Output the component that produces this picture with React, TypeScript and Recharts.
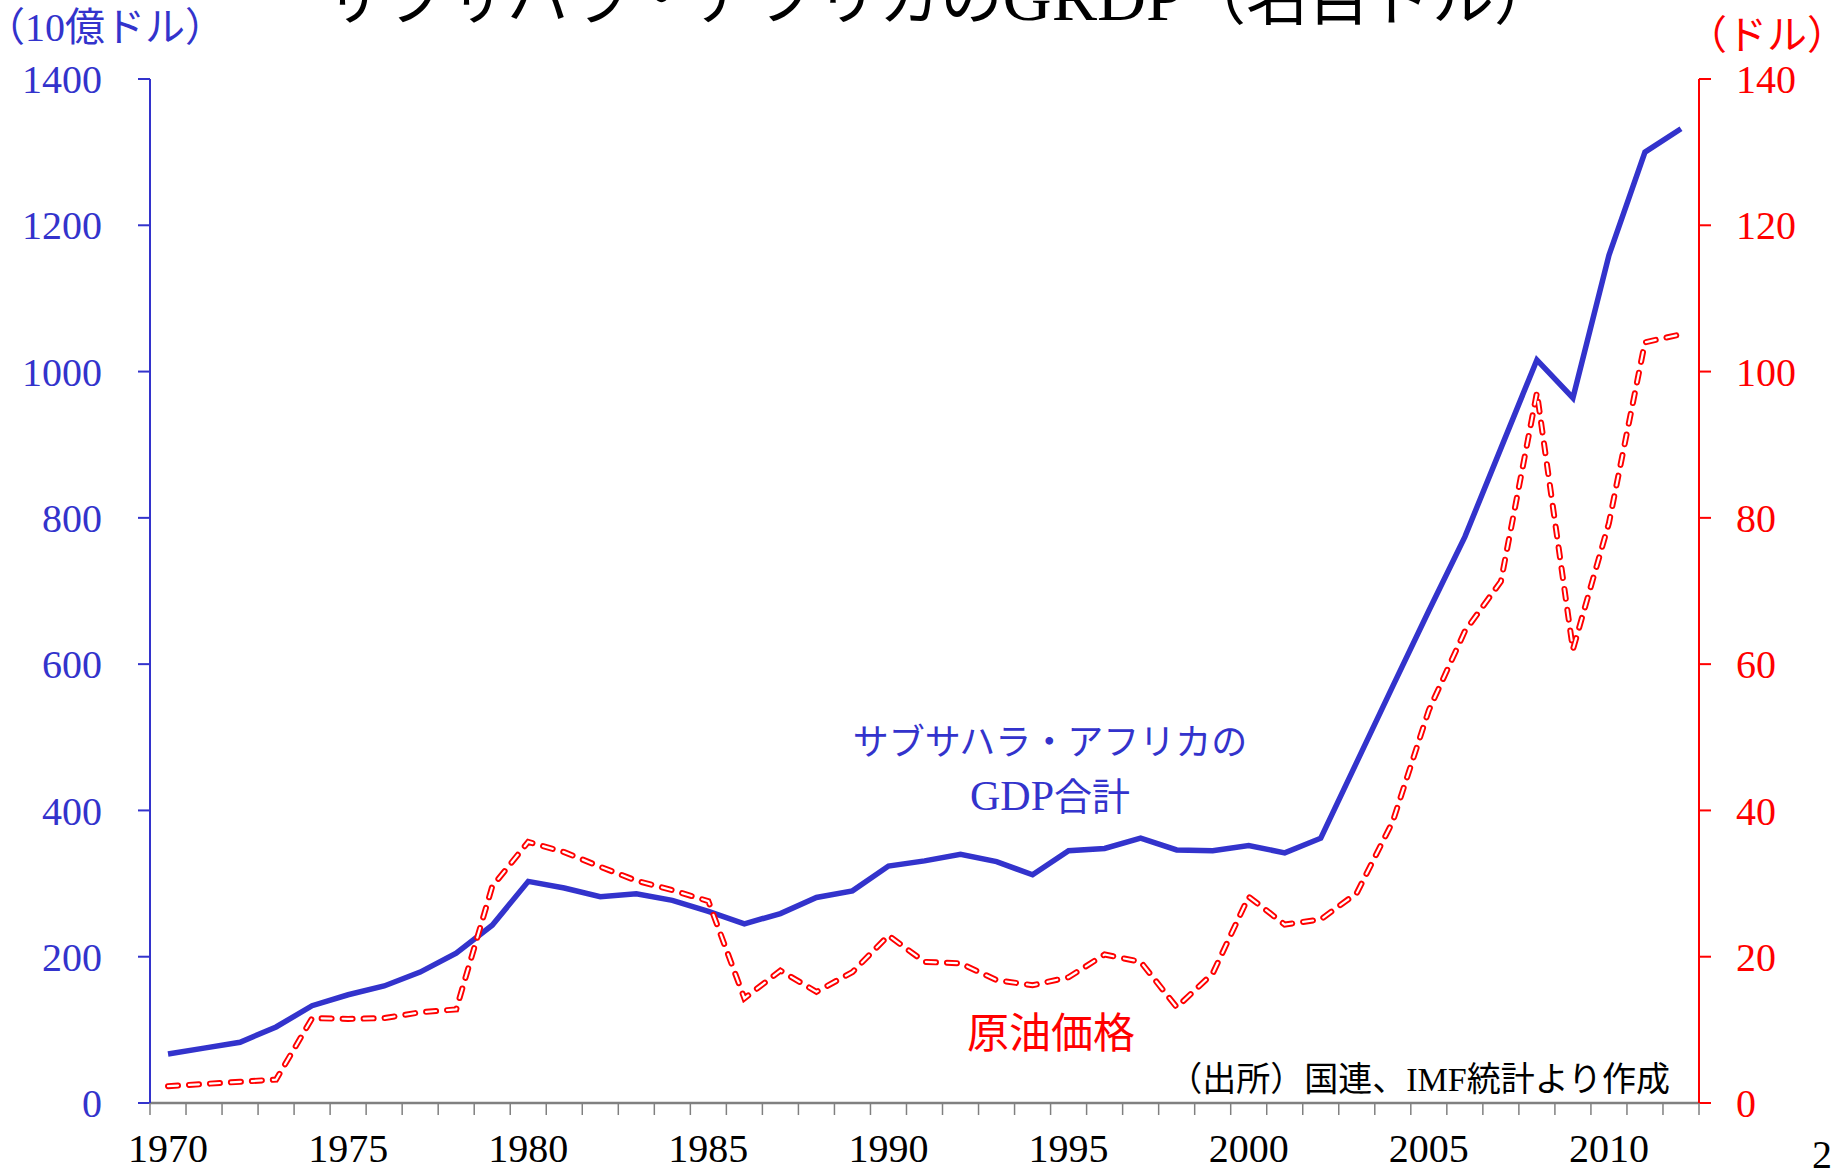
import { LineChart, Line, XAxis, YAxis } from "recharts";

// fiscal years on the category axis
const years = [
  1970, 1971, 1972, 1973, 1974, 1975, 1976, 1977, 1978, 1979,
  1980, 1981, 1982, 1983, 1984, 1985, 1986, 1987, 1988, 1989,
  1990, 1991, 1992, 1993, 1994, 1995, 1996, 1997, 1998, 1999,
  2000, 2001, 2002, 2003, 2004, 2005, 2006, 2007, 2008, 2009,
  2010, 2011, 2012,
];

// サブサハラ・アフリカのGDP合計 (10億ドル)
const gdp = [
  67, 75, 83, 104, 133, 148, 160, 179, 205, 243,
  303, 294, 282, 286, 277, 262, 245, 259, 281, 290,
  324, 331, 340, 330, 312, 345, 348, 362, 346, 345,
  352, 342, 362, 466, 570, 673, 774, 895, 1016, 964,
  1159, 1300, 1332,
];

// 原油価格 (ドル)
const oil = [
  2.3, 2.6, 2.9, 3.2, 11.6, 11.5, 11.6, 12.4, 12.8, 29.6,
  35.7, 34.3, 32.3, 30.4, 29.1, 27.6, 14.3, 18.1, 15.2, 17.9,
  22.9, 19.3, 19.1, 16.8, 16.1, 17.2, 20.3, 19.3, 13.1, 17.7,
  28.2, 24.4, 25.1, 28.7, 38.5, 53.7, 64.5, 71.3, 97.1, 62.0,
  79.3, 104.0, 105.1,
];

const gdpTicks = [0, 200, 400, 600, 800, 1000, 1200, 1400];
const oilTicks = [0, 20, 40, 60, 80, 100, 120, 140];
const labelYears = [1970, 1975, 1980, 1985, 1990, 1995, 2000, 2005, 2010];

const BLUE = "#3333cc";
const RED = "#ff0000";
const SERIF = "Liberation Serif";
const GOTHIC = "Noto Sans CJK JP";

const data = years.map((year, i) => ({ year, gdp: gdp[i], oil: oil[i] }));

// tick marks sit between the categories, labels on every 5th year
const boundaries = years.map((y) => y - 0.5).concat(years[years.length - 1] + 0.5);
const xTicks = [...boundaries, ...labelYears].sort((a, b) => a - b);

const YearTick = (props: any) => {
  const { x, y, payload } = props;
  const v = payload.value;
  if (v % 1 !== 0) {
    return <line x1={x} x2={x} y1={y} y2={y + 12} stroke="#808080" strokeWidth={1.5} />;
  }
  return (
    <text x={x} y={y + 59} textAnchor="middle" fontSize={40} fontFamily={SERIF} fill="#000">
      {v}
    </text>
  );
};

export default function App() {
  return (
    <div
      style={{
        position: "absolute",
        left: 0,
        top: 0,
        width: 1835,
        height: 1172,
        overflow: "hidden",
        background: "#fff",
      }}
    >
      <LineChart width={1835} height={1172} data={data} margin={{ top: 79, right: 0, bottom: 0, left: 0 }}>
        <XAxis
          dataKey="year"
          type="number"
          domain={[1969.5, 2012.5]}
          ticks={xTicks}
          interval={0}
          tickLine={false}
          tickSize={0}
          tickMargin={0}
          height={69}
          axisLine={{ stroke: "#808080", strokeWidth: 2.5 }}
          tick={YearTick}
        />
        <YAxis
          yAxisId="gdp"
          domain={[0, 1400]}
          ticks={gdpTicks}
          interval={0}
          width={150}
          tickSize={12}
          tickMargin={36}
          axisLine={{ stroke: BLUE, strokeWidth: 2 }}
          tickLine={{ stroke: BLUE, strokeWidth: 2 }}
          tick={{ fill: BLUE, fontSize: 40, fontFamily: SERIF }}
        />
        <YAxis
          yAxisId="oil"
          orientation="right"
          domain={[0, 140]}
          ticks={oilTicks}
          interval={0}
          width={136}
          tickSize={12}
          tickMargin={25}
          axisLine={{ stroke: RED, strokeWidth: 2 }}
          tickLine={{ stroke: RED, strokeWidth: 2 }}
          tick={{ fill: RED, fontSize: 40, fontFamily: SERIF }}
        />
        <Line
          yAxisId="gdp"
          dataKey="gdp"
          stroke={BLUE}
          strokeWidth={5.5}
          strokeLinejoin="miter"
          dot={false}
          activeDot={false}
          isAnimationActive={false}
        />
        {/* outlined dashes: wide red under a thin white stroke */}
        <Line
          yAxisId="oil"
          dataKey="oil"
          stroke={RED}
          strokeWidth={6}
          strokeDasharray="10 11"
          strokeLinecap="round"
          dot={false}
          activeDot={false}
          isAnimationActive={false}
        />
        <Line
          yAxisId="oil"
          dataKey="oil"
          stroke="#ffffff"
          strokeWidth={2.2}
          strokeDasharray="10 11"
          strokeLinecap="round"
          dot={false}
          activeDot={false}
          isAnimationActive={false}
        />
      </LineChart>

      <svg
        width={1835}
        height={1172}
        style={{ position: "absolute", left: 0, top: 0, pointerEvents: "none" }}
      >
        <text x={323} y={20} fontSize={62} fontFamily={GOTHIC} fill="#000">
          サブサハラ・アフリカの
          <tspan fontFamily={SERIF} fontSize={68}>GRDP</tspan>
          （名目ドル）
        </text>

        <text x={105} y={41} textAnchor="middle" fontSize={40} fontFamily={GOTHIC} fill={BLUE}>
          （<tspan fontFamily={SERIF}>10</tspan>億ドル）
        </text>
        <text x={1767} y={49} textAnchor="middle" fontSize={40} fontFamily={GOTHIC} fill={RED}>
          （ドル）
        </text>

        <text x={1050} y={755} textAnchor="middle" fontSize={36} fontFamily={GOTHIC} fill={BLUE}>
          サブサハラ・アフリカの
        </text>
        <text x={1050} y={810} textAnchor="middle" fontSize={38} fontFamily={GOTHIC} fill={BLUE}>
          <tspan fontFamily={SERIF} fontSize={42}>GDP</tspan>合計
        </text>

        <text x={1051} y={1048} textAnchor="middle" fontSize={42} fontFamily={GOTHIC} fill={RED}>
          原油価格
        </text>

        <text x={1670} y={1091} textAnchor="end" fontSize={34} fontFamily={GOTHIC} fill="#000">
          （出所）国連、<tspan fontFamily={SERIF}>IMF</tspan>統計より作成
        </text>

        <text x={1812} y={1168} fontSize={40} fontFamily={SERIF} fill="#000">
          2
        </text>
      </svg>
    </div>
  );
}
